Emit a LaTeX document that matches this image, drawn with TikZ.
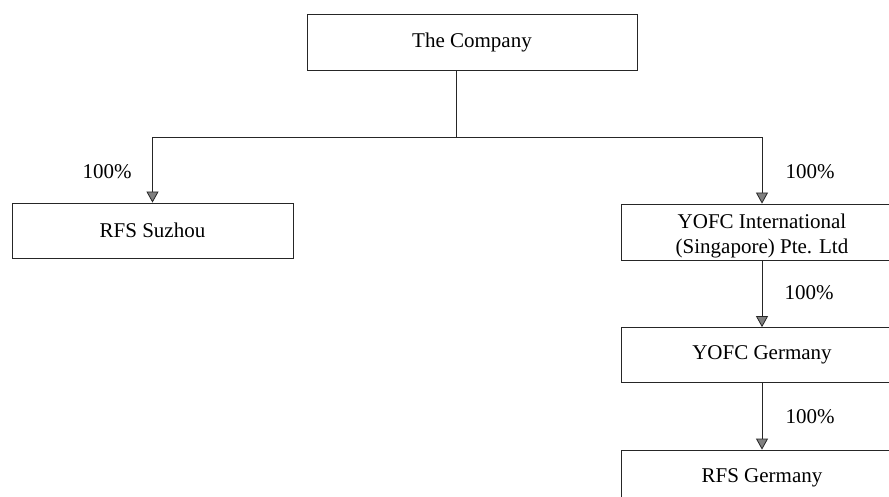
\documentclass[tikz,border=0pt]{standalone}
\usepackage{fontspec}
\setmainfont{Liberation Serif}
\usetikzlibrary{arrows.meta}
\begin{document}
\begin{tikzpicture}[x = 1pt, y = -1pt,
        box/.style = {draw = black!85, line width = 0.8pt, minimum width = 281pt, minimum height = 55pt,
                      inner sep = 0pt, align = center, font = \fontsize{21}{23}\selectfont},
        share/.style = {font = \fontsize{21}{23}\selectfont, inner sep = 0pt},
        link/.style = {draw = black!85, line width = 0.8pt,
                       -{Triangle[width = 12pt, length = 11pt, fill = black!50]}}]
            \useasboundingbox (0, 0) rectangle (889, 497);
            \scope
                \clip (0, 0) rectangle (889, 497);
                \node[box, minimum width = 330pt, minimum height = 56pt] (company) at (472, 42) {The Company};
                \node[box] (suzhou) at (152.5, 230.5) {RFS Suzhou};
                \node[box, minimum height = 56pt, text height = 48pt,
                      font = \fontsize{21}{25}\selectfont] (yofcint) at (762, 232) {YOFC International\\(Singapore) Pte. Ltd};
                \node[box] (yofcde) at (762, 355) {YOFC Germany};
                \node[box, minimum height = 56pt] (rfsde) at (762, 478) {RFS Germany};
                \coordinate (split) at (456, 137);
                \draw[black!85, line width = 0.8pt] (company.south -| split) -- (split);
                \draw[link] (split) -| (suzhou.north);
                \draw[link] (split) -| (yofcint.north);
                \draw[link] (yofcint) -- (yofcde);
                \draw[link] (yofcde) -- (rfsde);
                \node[share] (pctsuzhou) at (107, 172) {100\%};
                \node[share] (pctyofcint) at (810, 172) {100\%};
                \node[share] (pctyofcde) at (809, 293) {100\%};
                \node[share] (pctrfsde) at (810, 417) {100\%};
            \endscope
        \end{tikzpicture}
\end{document}
